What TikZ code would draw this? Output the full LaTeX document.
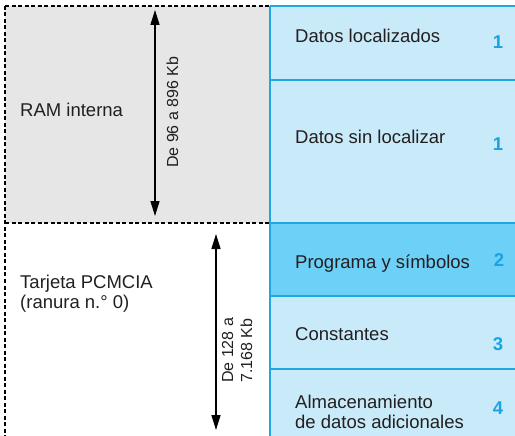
\documentclass[tikz,border=0pt]{standalone}
\usepackage{fontspec}
\setmainfont{Liberation Sans}
\usetikzlibrary{arrows.meta}
\definecolor{lightblue}{HTML}{C9EAF9}
\definecolor{darkblue}{HTML}{6DD0F6}
\definecolor{edgeblue}{HTML}{1EA7E1}
\definecolor{numblue}{HTML}{1AA3E0}
\definecolor{greyfill}{HTML}{E6E6E6}
\definecolor{txt}{HTML}{231F20}
\tikzset{
  lbl/.style={anchor=base west, inner sep=0pt, text=txt, font=\fontsize{18.5}{20.5}\selectfont},
  num/.style={anchor=base, inner sep=0pt, text=numblue, font=\fontsize{18.5}{20.5}\selectfont\bfseries},
  rlbl/.style={anchor=base west, inner sep=0pt, rotate=90, text=txt, font=\fontsize{16}{18}\selectfont},
  dashline/.style={draw=black, line width=1.2pt, dash pattern=on 4pt off 2.5pt},
  blueline/.style={draw=edgeblue, line width=1.2pt},
  dimarrow/.style={draw=black, line width=1.5pt, {Triangle[length=15pt,width=9pt]}-{Triangle[length=15pt,width=9pt]}}
}
\begin{document}
\begin{tikzpicture}[x=1pt,y=-1pt]
\useasboundingbox (0,0) rectangle (515,436);
% grey RAM region
\fill[greyfill] (5,6) rectangle (270,223);
\draw[dashline] (5,6) -- (270,6);
\draw[dashline] (5,223) -- (270,223);
\draw[dashline] (5,6) -- (5,436);
% right column fills
\fill[lightblue] (270,6) rectangle (515,223);
\fill[darkblue] (270,223) rectangle (515,296);
\fill[lightblue] (270,296) rectangle (515,436);
% right column lines
\draw[blueline] (270,6) -- (515,6);
\draw[blueline] (270,80) -- (515,80);
\draw[blueline] (270,223) -- (515,223);
\draw[blueline] (270,296) -- (515,296);
\draw[blueline] (270,369) -- (515,369);
\draw[blueline] (270,6) -- (270,436);
% left labels
\node[lbl] (ram) at (20,117) {RAM interna};
\node[lbl] (tar1) at (20,288) {Tarjeta PCMCIA};
\node[lbl] (tar2) at (20,308) {(ranura n.\textdegree\ 0)};
% right labels
\node[lbl] (dl) at (295,43) {Datos localizados};
\node[num] (n1a) at (498,49) {1};
\node[lbl] (dsl) at (295,143) {Datos sin localizar};
\node[num] (n1b) at (498,150) {1};
\node[lbl] (prog) at (295,268) {Programa y símbolos};
\node[num] (n2) at (499,266) {2};
\node[lbl] (cons) at (295,340) {Constantes};
\node[num] (n3) at (498,350) {3};
\node[lbl] (alm1) at (295,408) {Almacenamiento};
\node[lbl] (alm2) at (295,428) {de datos adicionales};
\node[num] (n4) at (498,414) {4};
% dimension arrows
\coordinate (a1t) at (155,10);
\coordinate (a1b) at (155,216);
\draw[dimarrow] (a1t) -- (a1b);
\node[rlbl] (r1) at (178,168) {De 96 a 896 Kb};
\coordinate (a2t) at (216,234);
\coordinate (a2b) at (216,430);
\draw[dimarrow] (a2t) -- (a2b);
\node[rlbl] (r2a) at (233,383) {De 128 a};
\node[rlbl] (r2b) at (252,383) {7.168 Kb};
\end{tikzpicture}
\end{document}
